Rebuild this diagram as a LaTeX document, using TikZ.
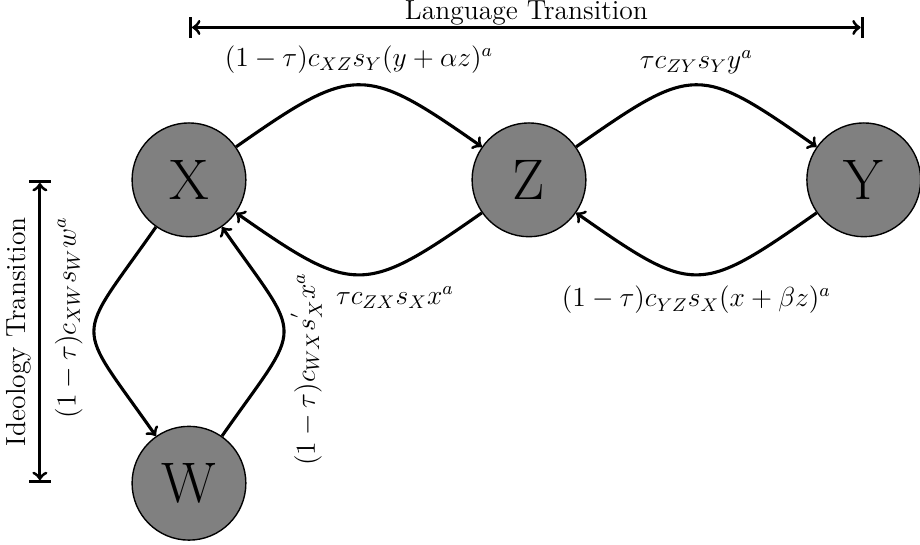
\documentclass[tikz,border=0pt]{standalone}
\usepackage{amsmath}

\begin{document}
\begin{tikzpicture}[
        % Стиль для вершин: серый круг с крупной буквой
        agent/.style={
            circle, draw, semithick,
            fill=gray,
            minimum size=1.74cm,
            inner sep=0pt,
            font=\Huge
        },
        % Стиль для переходов между вершинами
        flow/.style={
            ->, line width=1.35pt,
            distance=2.2cm
        },
        % Стиль для шкал переходов
        span/.style={
            |<->|, line width=1.35pt
        },
        % Стиль для подписей
        label style/.style={
            font=\large
        }
    ]

        \useasboundingbox (-2.89, 2.75) rectangle (11.18, -5.58);

        % Вершины
        \node[agent] (X) at (0, 0) {X};
        \node[agent] (Z) at (5.2, 0) {Z};
        \node[agent] (Y) at (10.32, 0) {Y};
        \node[agent] (W) at (0, -4.64) {W};

        % Переходы по языку (верх и низ)
        \draw[flow] (X) to[out=35, in=145] node[label style, midway, above=1pt] {$(1-\tau)c_{XZ}s_Y(y+\alpha z)^a$} (Z);
        \draw[flow] (Z) to[out=215, in=-35] node[label style, midway, below=1pt, xshift=0.55cm] {$\tau c_{ZX}s_Xx^a$} (X);
        \draw[flow] (Z) to[out=35, in=145] node[label style, midway, above=1pt] {$\tau c_{ZY}s_Yy^a$} (Y);
        \draw[flow] (Y) to[out=215, in=-35] node[label style, midway, below=1pt] {$(1-\tau)c_{YZ}s_X(x+\beta z)^a$} (Z);

        % Переходы по идеологии (слева и справа)
        \draw[flow] (X) to[out=235, in=125] node[label style, midway, rotate=90, above=1pt, xshift=0.21cm] {$(1-\tau)c_{XW}s_Ww^a$} (W);
        \draw[flow] (W) to[out=55, in=305] node[label style, midway, rotate=90, below=-1pt, xshift=-0.58cm] {$(1-\tau)c_{WX}s_X^{'}x^a$} (X);

        % Шкалы
        \coordinate (lang west) at (0, 2.33);
        \coordinate (lang east) at (10.32, 2.33);
        \coordinate (ideo south) at (-2.28, -4.64);
        \coordinate (ideo north) at (-2.28, 0);

        \draw[span] (lang west) -- (lang east) node[label style, midway, above, inner sep=0.5pt] {Language Transition};
        \draw[span] (ideo south) -- (ideo north) node[label style, midway, above, sloped] {Ideology Transition};

    \end{tikzpicture}
\end{document}
